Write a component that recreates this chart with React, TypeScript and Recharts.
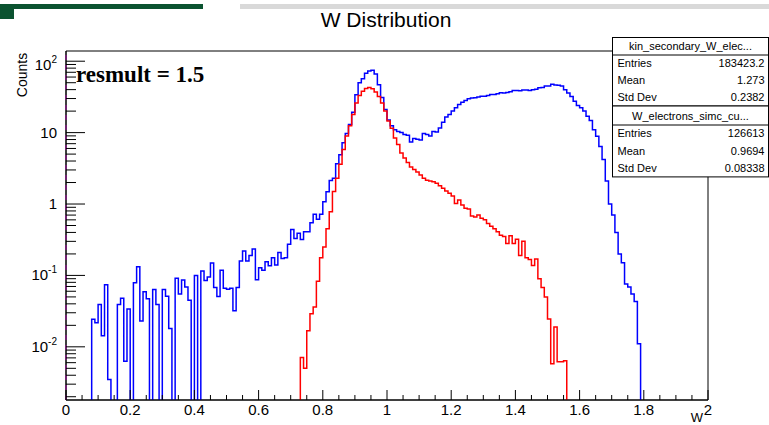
import React from 'react';
import { ComposedChart, Line, XAxis, YAxis, ReferenceArea, ReferenceLine } from 'recharts';

// ---- data (histograms, bin width 0.01 over W = 0 .. 2) ----
const BIN_WIDTH = 0.01;
const N_BINS = 200;

// kin_secondary_W_elec... (blue), first filled bin index
const BLUE_START = 8;
const blueCounts = [
  0.0243, 0.0218, 0.039, 0.0143, 0.074, 0.0035, 0, 0, 0.039, 0.048, 0.0063, 0.034,
  0, 0.079, 0.132, 0.023, 0.059, 0.047, 0, 0.0635, 0.039, 0,
  0.0635, 0.051, 0.018, 0, 0.091, 0.055, 0.086, 0.069, 0.045, 0,
  0.1, 0, 0.115, 0.085, 0.095, 0.149, 0.068, 0.0506, 0.118, 0.066,
  0.064, 0.066, 0.032, 0.068, 0.159, 0.22, 0.159, 0.19, 0.235, 0.087,
  0.128, 0.118, 0.156, 0.137, 0.177, 0.14, 0.21, 0.172, 0.177, 0.273,
  0.44, 0.33, 0.39, 0.318, 0.41, 0.41, 0.545, 0.72, 0.61, 0.72,
  1.08, 1.49, 2.13, 2.3, 3.66, 4.9, 7.2, 9.7, 13, 19.3,
  34, 50, 57, 68, 73, 75, 66, 47, 31, 21,
  15, 12.5, 11, 10.4, 10, 9.4, 9.2, 7.4, 8.3, 8.1,
  7.9, 9.7, 9.4, 9.0, 10.4, 10.2, 11.6, 14, 16.6, 17.9,
  20, 22.3, 24.8, 26.7, 28.2, 29.9, 30.5, 30.9, 31.5, 32.4,
  32.4, 33, 34.3, 34.3, 35, 36.3, 36, 36.5, 37.5, 39,
  39, 38.5, 39.4, 39.5, 39, 40, 40.5, 42.6, 43, 45,
  45, 47.5, 46.5, 46, 45, 40, 36, 32, 27.5, 24,
  22.3, 20, 16.9, 14.8, 11, 8.9, 6.4, 4.2, 2.1, 1.0,
  0.7, 0.4, 0.2, 0.15, 0.076, 0.069, 0.055, 0.043, 0.011,
];

// W_electrons_simc_cu... (red), first filled bin index
const RED_START = 73;
const redCounts = [
  0.0071, 0.005, 0.0168, 0.029, 0.036, 0.083, 0.177,
  0.25, 0.45, 0.78, 1.5, 2.3, 3.6, 5.8, 9, 12.5, 18,
  26, 33, 38, 41.5, 43, 41, 37, 32, 26, 20,
  14.5, 11.5, 8.4, 6.8, 5.2, 4.4, 3.8, 3.3, 3.05, 2.8,
  2.55, 2.3, 2.15, 2.1, 2.05, 1.95, 1.8, 1.66, 1.52, 1.41,
  1.3, 1.02, 1.14, 0.97, 0.87, 0.85, 0.68, 0.66, 0.7, 0.63,
  0.6, 0.535, 0.49, 0.45, 0.41, 0.366, 0.35, 0.28, 0.36, 0.28,
  0.32, 0.19, 0.3, 0.177, 0.167, 0.138, 0.17, 0.09, 0.068, 0.05,
  0.0245, 0.0058, 0.019, 0.0062, 0.0062, 0.0064,
];

// axes
const X_MIN = 0;
const X_MAX = 2;
const Y_MIN = 0.0018;
const Y_MAX = 139;
const xMajorTicks = [0, 0.2, 0.4, 0.6, 0.8, 1, 1.2, 1.4, 1.6, 1.8, 2];
const xMajorLabels = ['0', '0.2', '0.4', '0.6', '0.8', '1', '1.2', '1.4', '1.6', '1.8', '2'];
const xMinorStep = 0.05;
const yMajorTicks = [0.01, 0.1, 1, 10, 100];
const yMajorBase = ['10', '10', '1', '10', '10'];
const yMajorExp = ['-2', '-1', '', '', '2'];
const yMinorMultipliers = [2, 3, 4, 5, 6, 7, 8, 9];
const yMinorDecades = [0.001, 0.01, 0.1, 1, 10];

// stats boxes
const statsBoxes = [
  { name: 'kin_secondary_W_elec...', entries: '183423.2', mean: '1.273', std: '0.2382' },
  { name: 'W_electrons_simc_cu...', entries: '126613', mean: '0.9694', std: '0.08338' },
];

// ---- build table ----
const FLOOR = 1e-5;
const countAt = (arr: number[], start: number, i: number) => {
  const k = i - start;
  return k >= 0 && k < arr.length ? arr[k] : 0;
};
const data: { x: number; blue: number; red: number }[] = [];
for (let i = 0; i <= N_BINS; i++) {
  const j = Math.min(i, N_BINS - 1);
  const b = i === N_BINS ? 0 : countAt(blueCounts, BLUE_START, j);
  const r = i === N_BINS ? 0 : countAt(redCounts, RED_START, j);
  data.push({ x: Number((i * BIN_WIDTH).toFixed(2)), blue: b > 0 ? b : FLOOR, red: r > 0 ? r : FLOOR });
}

const xTicks: number[] = [];
for (let k = 0; k <= Math.round((X_MAX - X_MIN) / xMinorStep); k++) xTicks.push(Number((X_MIN + k * xMinorStep).toFixed(2)));
const yTicks: number[] = [...yMajorTicks];
yMinorDecades.forEach((d) => yMinorMultipliers.forEach((m) => {
  const v = Number((d * m).toPrecision(3));
  if (v > Y_MIN && v < Y_MAX) yTicks.push(v);
}));
yTicks.sort((a, b) => a - b);

const SANS = '"Liberation Sans", Arial, Helvetica, sans-serif';
const SERIF = '"Liberation Serif", "Times New Roman", serif';

const XTick = (props: any) => {
  const { x, y, payload } = props;
  const v = payload.value;
  const idx = xMajorTicks.findIndex((t) => Math.abs(t - v) < 1e-6);
  const major = idx >= 0;
  const len = major ? 10 : 5;
  return (
    <g>
      <line x1={x} x2={x} y1={y} y2={y - len} stroke="#000" strokeWidth={1} />
      {major && (
        <text x={x} y={y + 15} textAnchor="middle" fontSize={15} fontFamily={SANS} fill="#000">
          {xMajorLabels[idx]}
        </text>
      )}
    </g>
  );
};

const YTick = (props: any) => {
  const { x, y, payload } = props;
  const v = payload.value;
  const idx = yMajorTicks.findIndex((t) => Math.abs(t - v) / t < 1e-6);
  const major = idx >= 0;
  const len = major ? 19 : 10;
  const shift = major && yMajorTicks[idx] === 100 ? 4 : 0;
  return (
    <g>
      <line x1={x} x2={x + len} y1={y} y2={y} stroke="#000" strokeWidth={1} />
      {major && (
        <text x={x - 9} y={y + 5 + shift} textAnchor="end" fontSize={15} fontFamily={SANS} fill="#000">
          {yMajorBase[idx]}
          {yMajorExp[idx] && (
            <tspan dy={-7} fontSize={10}>{yMajorExp[idx]}</tspan>
          )}
        </text>
      )}
    </g>
  );
};

const StatsBox = ({ box, top, headerH, rowH }: any) => {
  const left = 612.5;
  const right = 768.5;
  const rows = [['Entries', box.entries], ['Mean', box.mean], ['Std Dev', box.std]];
  const h = headerH + rowH * 3;
  return (
    <g>
      <rect x={left} y={top} width={right - left} height={h} fill="#fff" stroke="#000" strokeWidth={1} />
      <line x1={left} x2={right} y1={top + headerH} y2={top + headerH} stroke="#000" strokeWidth={1} />
      <text x={(left + right) / 2} y={top + headerH - 5} textAnchor="middle" fontSize={11} fontFamily={SANS} fill="#000">
        {box.name}
      </text>
      {rows.map((r, k) => (
        <g key={k}>
          <text x={left + 5} y={top + headerH + rowH * (k + 1) - 5} fontSize={11} fontFamily={SANS} fill="#000">{r[0]}</text>
          <text x={right - 4} y={top + headerH + rowH * (k + 1) - 5} textAnchor="end" fontSize={11} fontFamily={SANS} fill="#000">{r[1]}</text>
        </g>
      ))}
    </g>
  );
};

export default function App() {
  return (
    <div style={{ position: 'absolute', left: 0, top: 0, width: 769, height: 425, background: '#fff', overflow: 'hidden' }}>
      <ComposedChart width={769} height={425} data={data} margin={{ top: 51, right: 61, bottom: 0, left: 6 }}>
        <XAxis
          type="number"
          dataKey="x"
          domain={[X_MIN, X_MAX]}
          ticks={xTicks}
          interval={0}
          tick={(p: any) => <XTick {...p} />}
          tickLine={false}
          tickSize={0}
          tickMargin={0}
          height={25}
          axisLine={{ stroke: '#000' }}
          allowDataOverflow
        />
        <YAxis
          type="number"
          scale="log"
          domain={[Y_MIN, Y_MAX]}
          ticks={yTicks}
          interval={0}
          tick={(p: any) => <YTick {...p} />}
          tickLine={false}
          tickSize={0}
          tickMargin={0}
          width={60}
          axisLine={{ stroke: '#000' }}
          allowDataOverflow
        />
        <ReferenceArea x1={X_MIN} x2={X_MAX} y1={Y_MIN} y2={Y_MAX} fill="none" fillOpacity={0} stroke="#000" strokeWidth={1} ifOverflow="visible" />
        <Line type="stepAfter" dataKey="blue" stroke="#0000ff" strokeWidth={1.5} dot={false} activeDot={false} isAnimationActive={false} />
        <Line type="stepAfter" dataKey="red" stroke="#ff0000" strokeWidth={1.5} dot={false} activeDot={false} isAnimationActive={false} />
        <ReferenceLine x={X_MIN} stroke="#ff33ff" strokeWidth={1.5} strokeDasharray="5 5" ifOverflow="visible" />
      </ComposedChart>
      <svg width={769} height={425} style={{ position: 'absolute', left: 0, top: 0, pointerEvents: 'none' }}>
        <rect x={0} y={4} width={203} height={5} fill="#0b5330" />
        <rect x={0} y={4} width={14} height={15} fill="#0b5330" />
        <rect x={240} y={4} width={529} height={5} fill="#d9d9d9" />
        <text x={386} y={27} textAnchor="middle" fontSize={21} fontFamily={SANS} fill="#000">W Distribution</text>
        <text transform="translate(27,75) rotate(-90)" textAnchor="middle" fontSize={14} fontFamily={SANS} fill="#000">Counts</text>
        <text x={703} y={422} textAnchor="end" fontSize={13} fontFamily={SANS} fill="#000">W</text>
        <text x={76} y={82} fontSize={23} fontWeight="bold" fontFamily={SERIF} fill="#000">resmult = 1.5</text>
        <StatsBox box={statsBoxes[0]} top={37.5} headerH={17.5} rowH={17} />
        <StatsBox box={statsBoxes[1]} top={106} headerH={19} rowH={17.3} />
      </svg>
    </div>
  );
}
